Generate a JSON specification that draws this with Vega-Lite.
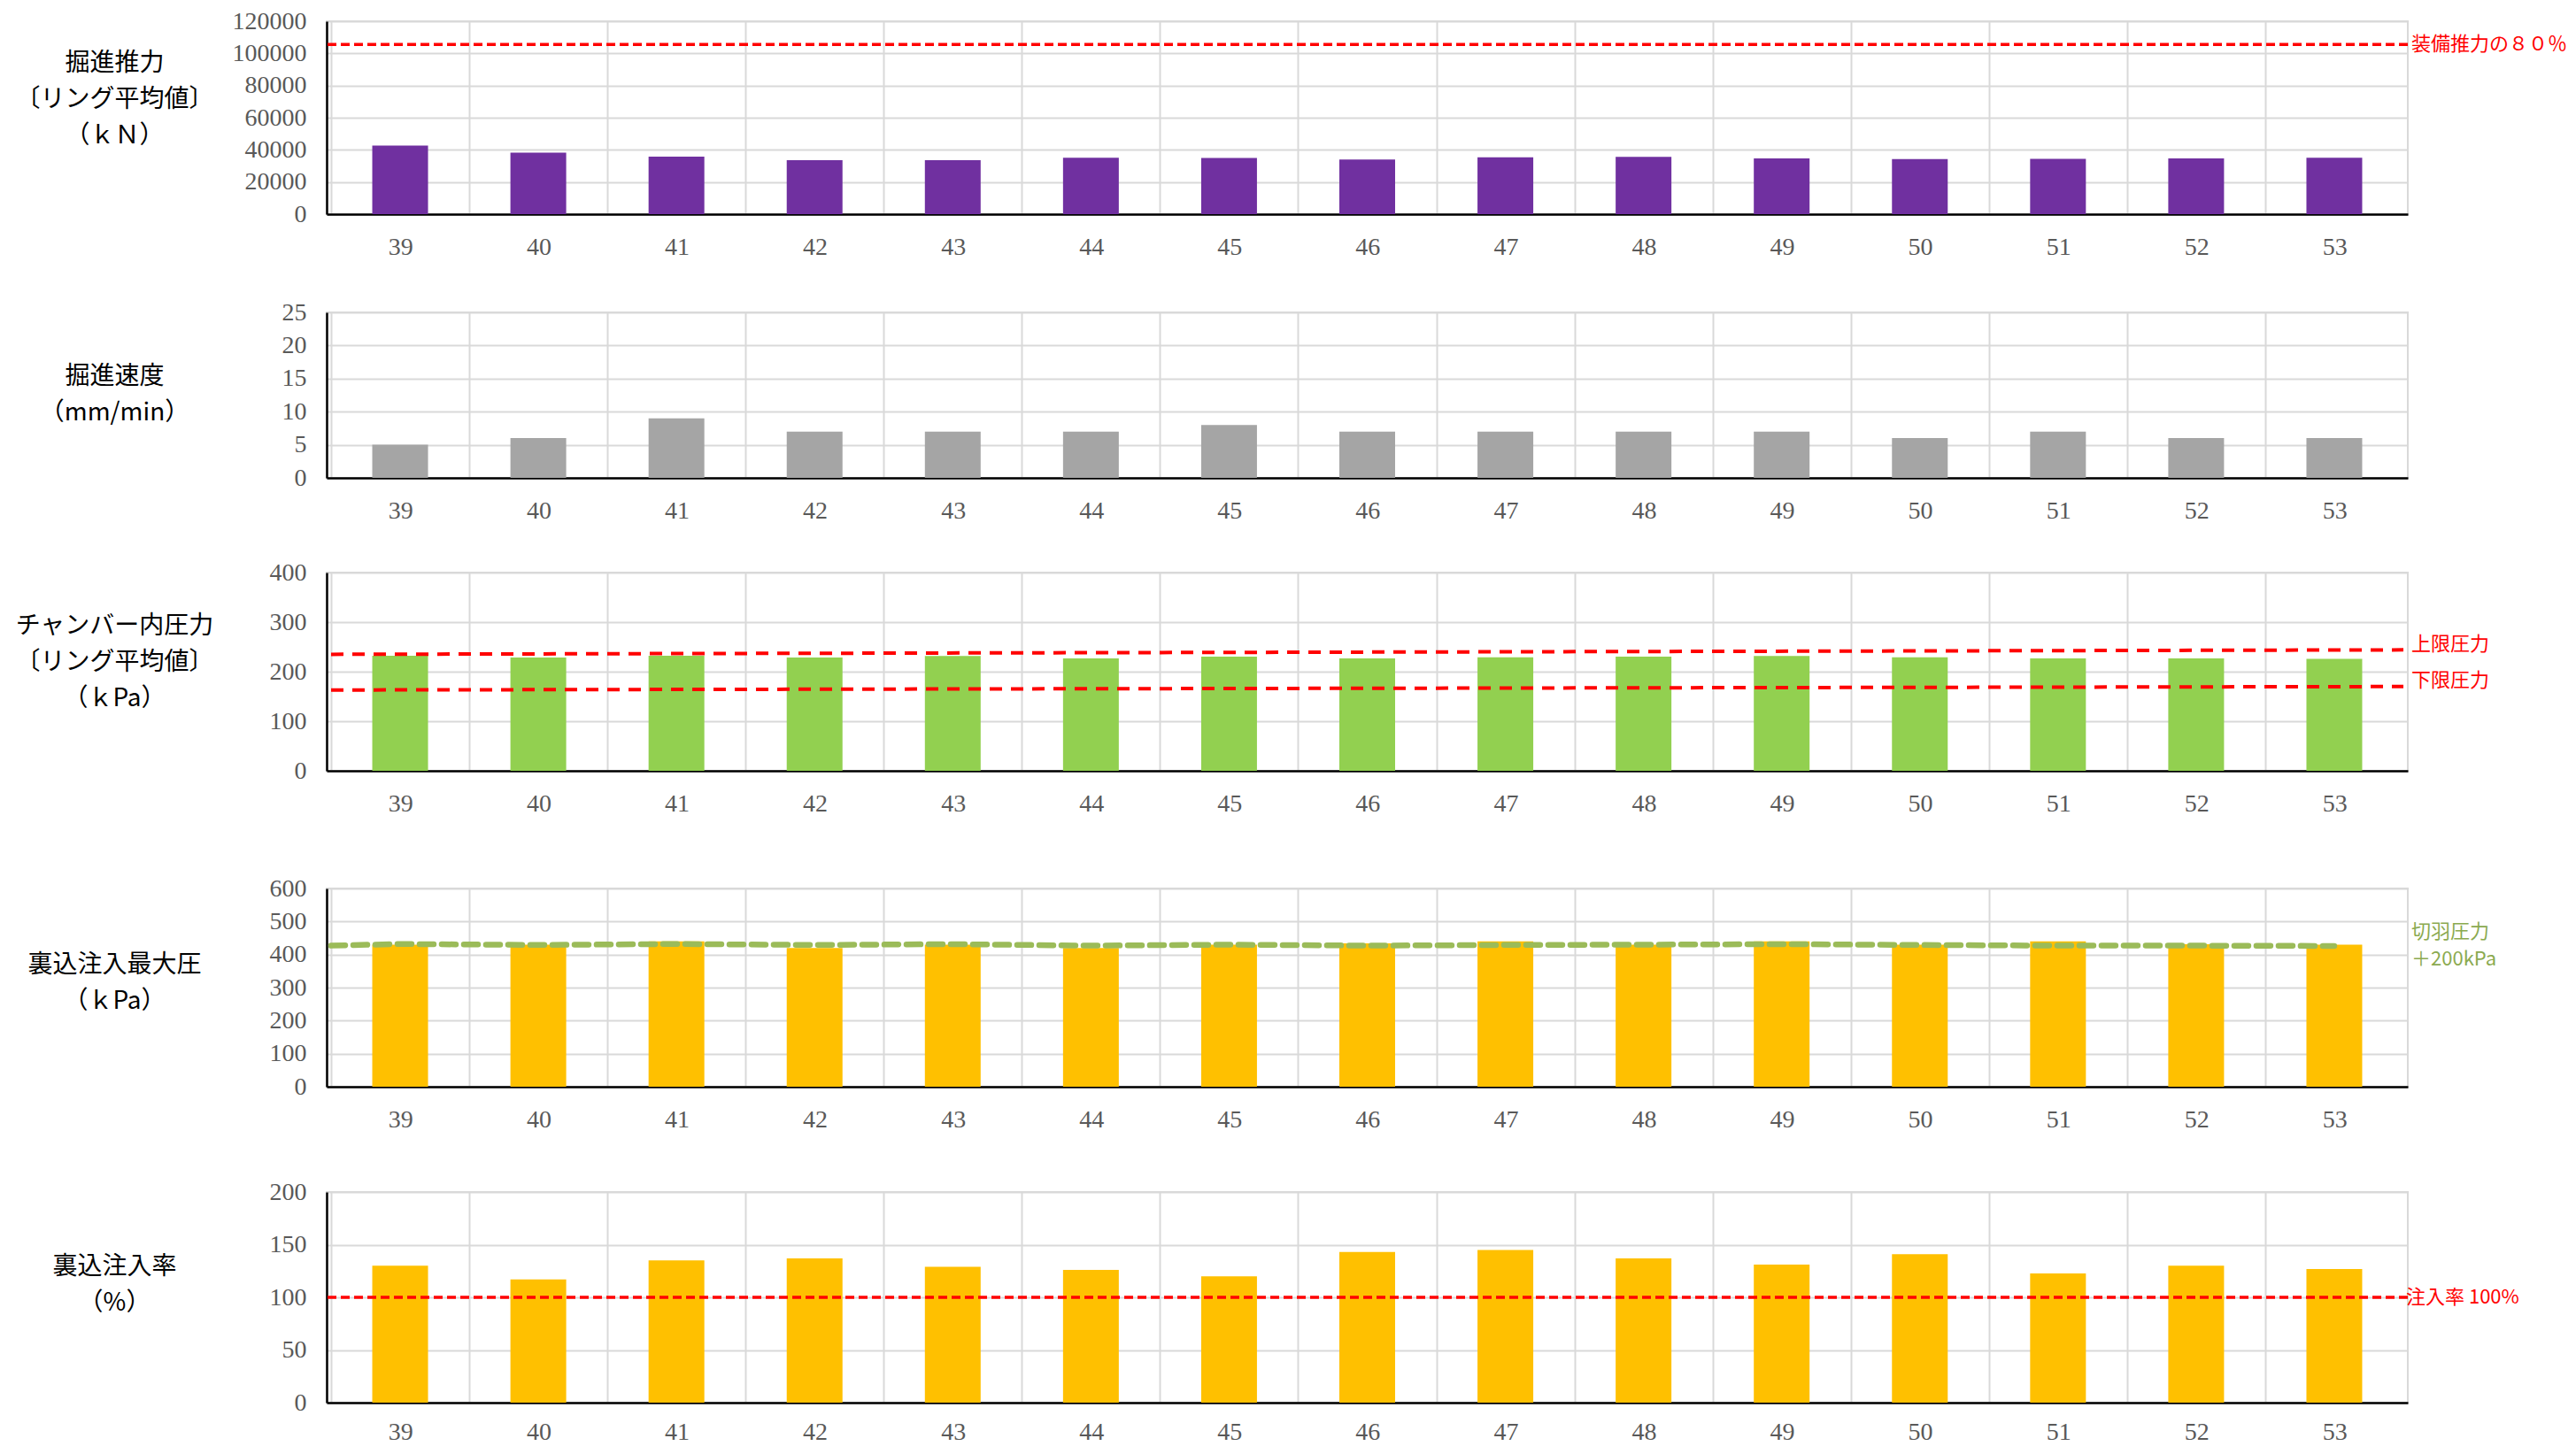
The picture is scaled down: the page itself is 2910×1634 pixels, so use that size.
{
  "$schema": "https://vega.github.io/schema/vega-lite/v6.json",
  "background": "white",
  "padding": {"left": 15, "top": 9, "right": 0, "bottom": 0},
  "spacing": 40,
  "config": {
    "view": {"stroke": "#d9d9d9", "strokeWidth": 2},
    "axis": {
      "labelFont": "Liberation Serif", "labelFontSize": 28, "labelColor": "#595959",
      "gridColor": "#d9d9d9", "gridWidth": 2,
      "domainColor": "#000000", "domainWidth": 2.5,
      "ticks": false, "labelOverlap": false,
      "titleFont": "Noto Sans CJK JP", "titleFontSize": 28, "titleFontWeight": "normal", "titleColor": "#000000"
    },
    "text": {"font": "Noto Sans CJK JP"}
  },
  "datasets": {
    "rings": [
      {"ring": 39, "thrust": 42600, "speed": 5, "chamber": 232, "inj_p": 430, "inj_rate": 130},
      {"ring": 40, "thrust": 38200, "speed": 6, "chamber": 228.6, "inj_p": 430, "inj_rate": 117},
      {"ring": 41, "thrust": 35800, "speed": 9, "chamber": 232, "inj_p": 440, "inj_rate": 135},
      {"ring": 42, "thrust": 33600, "speed": 7, "chamber": 228.6, "inj_p": 420, "inj_rate": 137},
      {"ring": 43, "thrust": 33600, "speed": 7, "chamber": 231.5, "inj_p": 430, "inj_rate": 129},
      {"ring": 44, "thrust": 35100, "speed": 7, "chamber": 226.8, "inj_p": 420, "inj_rate": 126},
      {"ring": 45, "thrust": 34900, "speed": 8, "chamber": 230.4, "inj_p": 430, "inj_rate": 120},
      {"ring": 46, "thrust": 34000, "speed": 7, "chamber": 226.8, "inj_p": 434, "inj_rate": 143},
      {"ring": 47, "thrust": 35300, "speed": 7, "chamber": 229, "inj_p": 440, "inj_rate": 145},
      {"ring": 48, "thrust": 35600, "speed": 7, "chamber": 230.4, "inj_p": 430, "inj_rate": 137},
      {"ring": 49, "thrust": 34700, "speed": 7, "chamber": 231.5, "inj_p": 440, "inj_rate": 131},
      {"ring": 50, "thrust": 34200, "speed": 6, "chamber": 229, "inj_p": 430, "inj_rate": 141},
      {"ring": 51, "thrust": 34400, "speed": 7, "chamber": 226.8, "inj_p": 440, "inj_rate": 122.6},
      {"ring": 52, "thrust": 34700, "speed": 6, "chamber": 226.8, "inj_p": 431, "inj_rate": 130},
      {"ring": 53, "thrust": 35100, "speed": 6, "chamber": 226, "inj_p": 430, "inj_rate": 126.8}
    ],
    "face_line": [
      {"ring": 38.5, "v": 427}, {"ring": 39, "v": 432}, {"ring": 40, "v": 429}, {"ring": 41, "v": 432},
      {"ring": 42, "v": 429}, {"ring": 43, "v": 431.5}, {"ring": 44, "v": 427}, {"ring": 45, "v": 430},
      {"ring": 46, "v": 427}, {"ring": 47, "v": 429}, {"ring": 48, "v": 430}, {"ring": 49, "v": 431.5},
      {"ring": 50, "v": 429}, {"ring": 51, "v": 427}, {"ring": 52, "v": 427}, {"ring": 53, "v": 426}
    ],
    "limits": [
      {"ring": 38.5, "upper": 235, "lower": 163},
      {"ring": 53.5, "upper": 244, "lower": 170}
    ]
  },
  "vconcat": [
    {
      "width": 2351, "height": 218,
      "resolve": {"axis": {"x": "independent", "y": "independent"}},
      "layer": [
        {
          "data": {"name": "rings"},
          "mark": {"type": "bar", "width": 63, "color": "#7030A0"},
          "encoding": {
            "x": {"field": "ring", "type": "quantitative", "scale": {"domain": [38.5, 53.5], "nice": false, "zero": false},
              "axis": {"values": [38.5,39.5,40.5,41.5,42.5,43.5,44.5,45.5,46.5,47.5,48.5,49.5,50.5,51.5,52.5], "labelExpr": "format(datum.value + 0.5, 'd')", "labelOffset": 78.37, "labelFlush": false, "labelOverlap": false, "labelPadding": 23, "grid": true, "title": " ", "titleFontSize": 1, "titlePadding": 3}},
            "y": {"field": "thrust", "type": "quantitative", "scale": {"domain": [0, 120000], "nice": false},
              "axis": {"values": [0,20000,40000,60000,80000,100000,120000], "format": "d", "labelOverlap": false, "labelPadding": 23, "grid": true,
                "title": ["掘進推力", "〔リング平均値〕", "（ｋＮ）"], "titleX": -240, "titleY": 47, "titleAngle": 0, "titleAlign": "center", "titleBaseline": "middle", "titleLineHeight": 41}}
          }
        },
        {
          "data": {"values": [{"v": 105600}]},
          "mark": {"type": "rule", "color": "#FF0000", "strokeWidth": 3.5, "strokeDash": [10, 5]},
          "encoding": {"y": {"field": "v", "type": "quantitative", "axis": null}}
        },
        {
          "data": {"values": [{"v": 105600, "label": "装備推力の８０％"}]},
          "mark": {"type": "text", "align": "left", "baseline": "middle", "dx": 9, "color": "#FF0000", "fontSize": 22},
          "encoding": {"x": {"datum": 53.5, "axis": null}, "y": {"field": "v", "type": "quantitative", "axis": null}, "text": {"field": "label"}}
        }
      ]
    },
    {
      "width": 2351, "height": 187,
      "layer": [
        {
          "data": {"name": "rings"},
          "mark": {"type": "bar", "width": 63, "color": "#A5A5A5"},
          "encoding": {
            "x": {"field": "ring", "type": "quantitative", "scale": {"domain": [38.5, 53.5], "nice": false, "zero": false},
              "axis": {"values": [38.5,39.5,40.5,41.5,42.5,43.5,44.5,45.5,46.5,47.5,48.5,49.5,50.5,51.5,52.5], "labelExpr": "format(datum.value + 0.5, 'd')", "labelOffset": 78.37, "labelFlush": false, "labelOverlap": false, "labelPadding": 23, "grid": true, "title": null}},
            "y": {"field": "speed", "type": "quantitative", "scale": {"domain": [0, 25], "nice": false},
              "axis": {"values": [0,5,10,15,20,25], "labelOverlap": false, "labelPadding": 23, "grid": true,
                "title": ["掘進速度", "（mm/min）"], "titleX": -240, "titleY": 72, "titleAngle": 0, "titleAlign": "center", "titleBaseline": "middle", "titleLineHeight": 41}}
          }
        }
      ]
    },
    {
      "width": 2351, "height": 224,
      "resolve": {"axis": {"x": "independent", "y": "independent"}},
      "layer": [
        {
          "data": {"name": "rings"},
          "mark": {"type": "bar", "width": 63, "color": "#92D050"},
          "encoding": {
            "x": {"field": "ring", "type": "quantitative", "scale": {"domain": [38.5, 53.5], "nice": false, "zero": false},
              "axis": {"values": [38.5,39.5,40.5,41.5,42.5,43.5,44.5,45.5,46.5,47.5,48.5,49.5,50.5,51.5,52.5], "labelExpr": "format(datum.value + 0.5, 'd')", "labelOffset": 78.37, "labelFlush": false, "labelOverlap": false, "labelPadding": 23, "grid": true, "title": " ", "titleFontSize": 1, "titlePadding": 25}},
            "y": {"field": "chamber", "type": "quantitative", "scale": {"domain": [0, 400], "nice": false},
              "axis": {"values": [0,100,200,300,400], "labelOverlap": false, "labelPadding": 23, "grid": true,
                "title": ["チャンバー内圧力", "〔リング平均値〕", "（ｋPa）"], "titleX": -240, "titleY": 60, "titleAngle": 0, "titleAlign": "center", "titleBaseline": "middle", "titleLineHeight": 41}}
          }
        },
        {
          "data": {"name": "limits"},
          "mark": {"type": "line", "color": "#FF0000", "strokeWidth": 4, "strokeDash": [14, 10]},
          "encoding": {"x": {"field": "ring", "type": "quantitative", "axis": null}, "y": {"field": "upper", "type": "quantitative", "axis": null}}
        },
        {
          "data": {"name": "limits"},
          "mark": {"type": "line", "color": "#FF0000", "strokeWidth": 4, "strokeDash": [14, 10]},
          "encoding": {"x": {"field": "ring", "type": "quantitative", "axis": null}, "y": {"field": "lower", "type": "quantitative", "axis": null}}
        },
        {
          "data": {"values": [{"v": 256, "label": "上限圧力"}, {"v": 183, "label": "下限圧力"}]},
          "mark": {"type": "text", "align": "left", "baseline": "middle", "dx": 9, "color": "#FF0000", "fontSize": 22},
          "encoding": {"x": {"datum": 53.5, "axis": null}, "y": {"field": "v", "type": "quantitative", "axis": null}, "text": {"field": "label"}}
        }
      ]
    },
    {
      "width": 2351, "height": 224,
      "resolve": {"axis": {"x": "independent", "y": "independent"}},
      "layer": [
        {
          "data": {"name": "rings"},
          "mark": {"type": "bar", "width": 63, "color": "#FFC000"},
          "encoding": {
            "x": {"field": "ring", "type": "quantitative", "scale": {"domain": [38.5, 53.5], "nice": false, "zero": false},
              "axis": {"values": [38.5,39.5,40.5,41.5,42.5,43.5,44.5,45.5,46.5,47.5,48.5,49.5,50.5,51.5,52.5], "labelExpr": "format(datum.value + 0.5, 'd')", "labelOffset": 78.37, "labelFlush": false, "labelOverlap": false, "labelPadding": 23, "grid": true, "title": " ", "titleFontSize": 1, "titlePadding": 11}},
            "y": {"field": "inj_p", "type": "quantitative", "scale": {"domain": [0, 600], "nice": false},
              "axis": {"values": [0,100,200,300,400,500,600], "labelOverlap": false, "labelPadding": 23, "grid": true,
                "title": ["裏込注入最大圧", "（ｋPa）"], "titleX": -240, "titleY": 86, "titleAngle": 0, "titleAlign": "center", "titleBaseline": "middle", "titleLineHeight": 41}}
          }
        },
        {
          "data": {"name": "face_line"},
          "mark": {"type": "line", "color": "#9BBB59", "strokeWidth": 6.5, "strokeDash": [16, 9], "strokeCap": "round"},
          "encoding": {"x": {"field": "ring", "type": "quantitative", "axis": null}, "y": {"field": "v", "type": "quantitative", "axis": null}}
        },
        {
          "data": {"values": [{"v": 470, "label": "切羽圧力"}, {"v": 386, "label": "＋200kPa"}]},
          "mark": {"type": "text", "align": "left", "baseline": "middle", "dx": 9, "color": "#8BAA50", "fontSize": 22},
          "encoding": {"x": {"datum": 53.5, "axis": null}, "y": {"field": "v", "type": "quantitative", "axis": null}, "text": {"field": "label"}}
        }
      ]
    },
    {
      "width": 2351, "height": 238,
      "resolve": {"axis": {"x": "independent", "y": "independent"}},
      "layer": [
        {
          "data": {"name": "rings"},
          "mark": {"type": "bar", "width": 63, "color": "#FFC000"},
          "encoding": {
            "x": {"field": "ring", "type": "quantitative", "scale": {"domain": [38.5, 53.5], "nice": false, "zero": false},
              "axis": {"values": [38.5,39.5,40.5,41.5,42.5,43.5,44.5,45.5,46.5,47.5,48.5,49.5,50.5,51.5,52.5], "labelExpr": "format(datum.value + 0.5, 'd')", "labelOffset": 78.37, "labelFlush": false, "labelOverlap": false, "labelPadding": 19, "grid": true, "title": null}},
            "y": {"field": "inj_rate", "type": "quantitative", "scale": {"domain": [0, 200], "nice": false},
              "axis": {"values": [0,50,100,150,200], "labelOverlap": false, "labelPadding": 23, "grid": true,
                "title": ["裏込注入率", "（%）"], "titleX": -240, "titleY": 84, "titleAngle": 0, "titleAlign": "center", "titleBaseline": "middle", "titleLineHeight": 41}}
          }
        },
        {
          "data": {"values": [{"v": 100}]},
          "mark": {"type": "rule", "color": "#FF0000", "strokeWidth": 3.5, "strokeDash": [10, 5]},
          "encoding": {"y": {"field": "v", "type": "quantitative", "axis": null}}
        },
        {
          "data": {"values": [{"v": 100, "label": "注入率 100%"}]},
          "mark": {"type": "text", "align": "left", "baseline": "middle", "dx": 3, "color": "#FF0000", "fontSize": 22},
          "encoding": {"x": {"datum": 53.5, "axis": null}, "y": {"field": "v", "type": "quantitative", "axis": null}, "text": {"field": "label"}}
        }
      ]
    }
  ]
}
